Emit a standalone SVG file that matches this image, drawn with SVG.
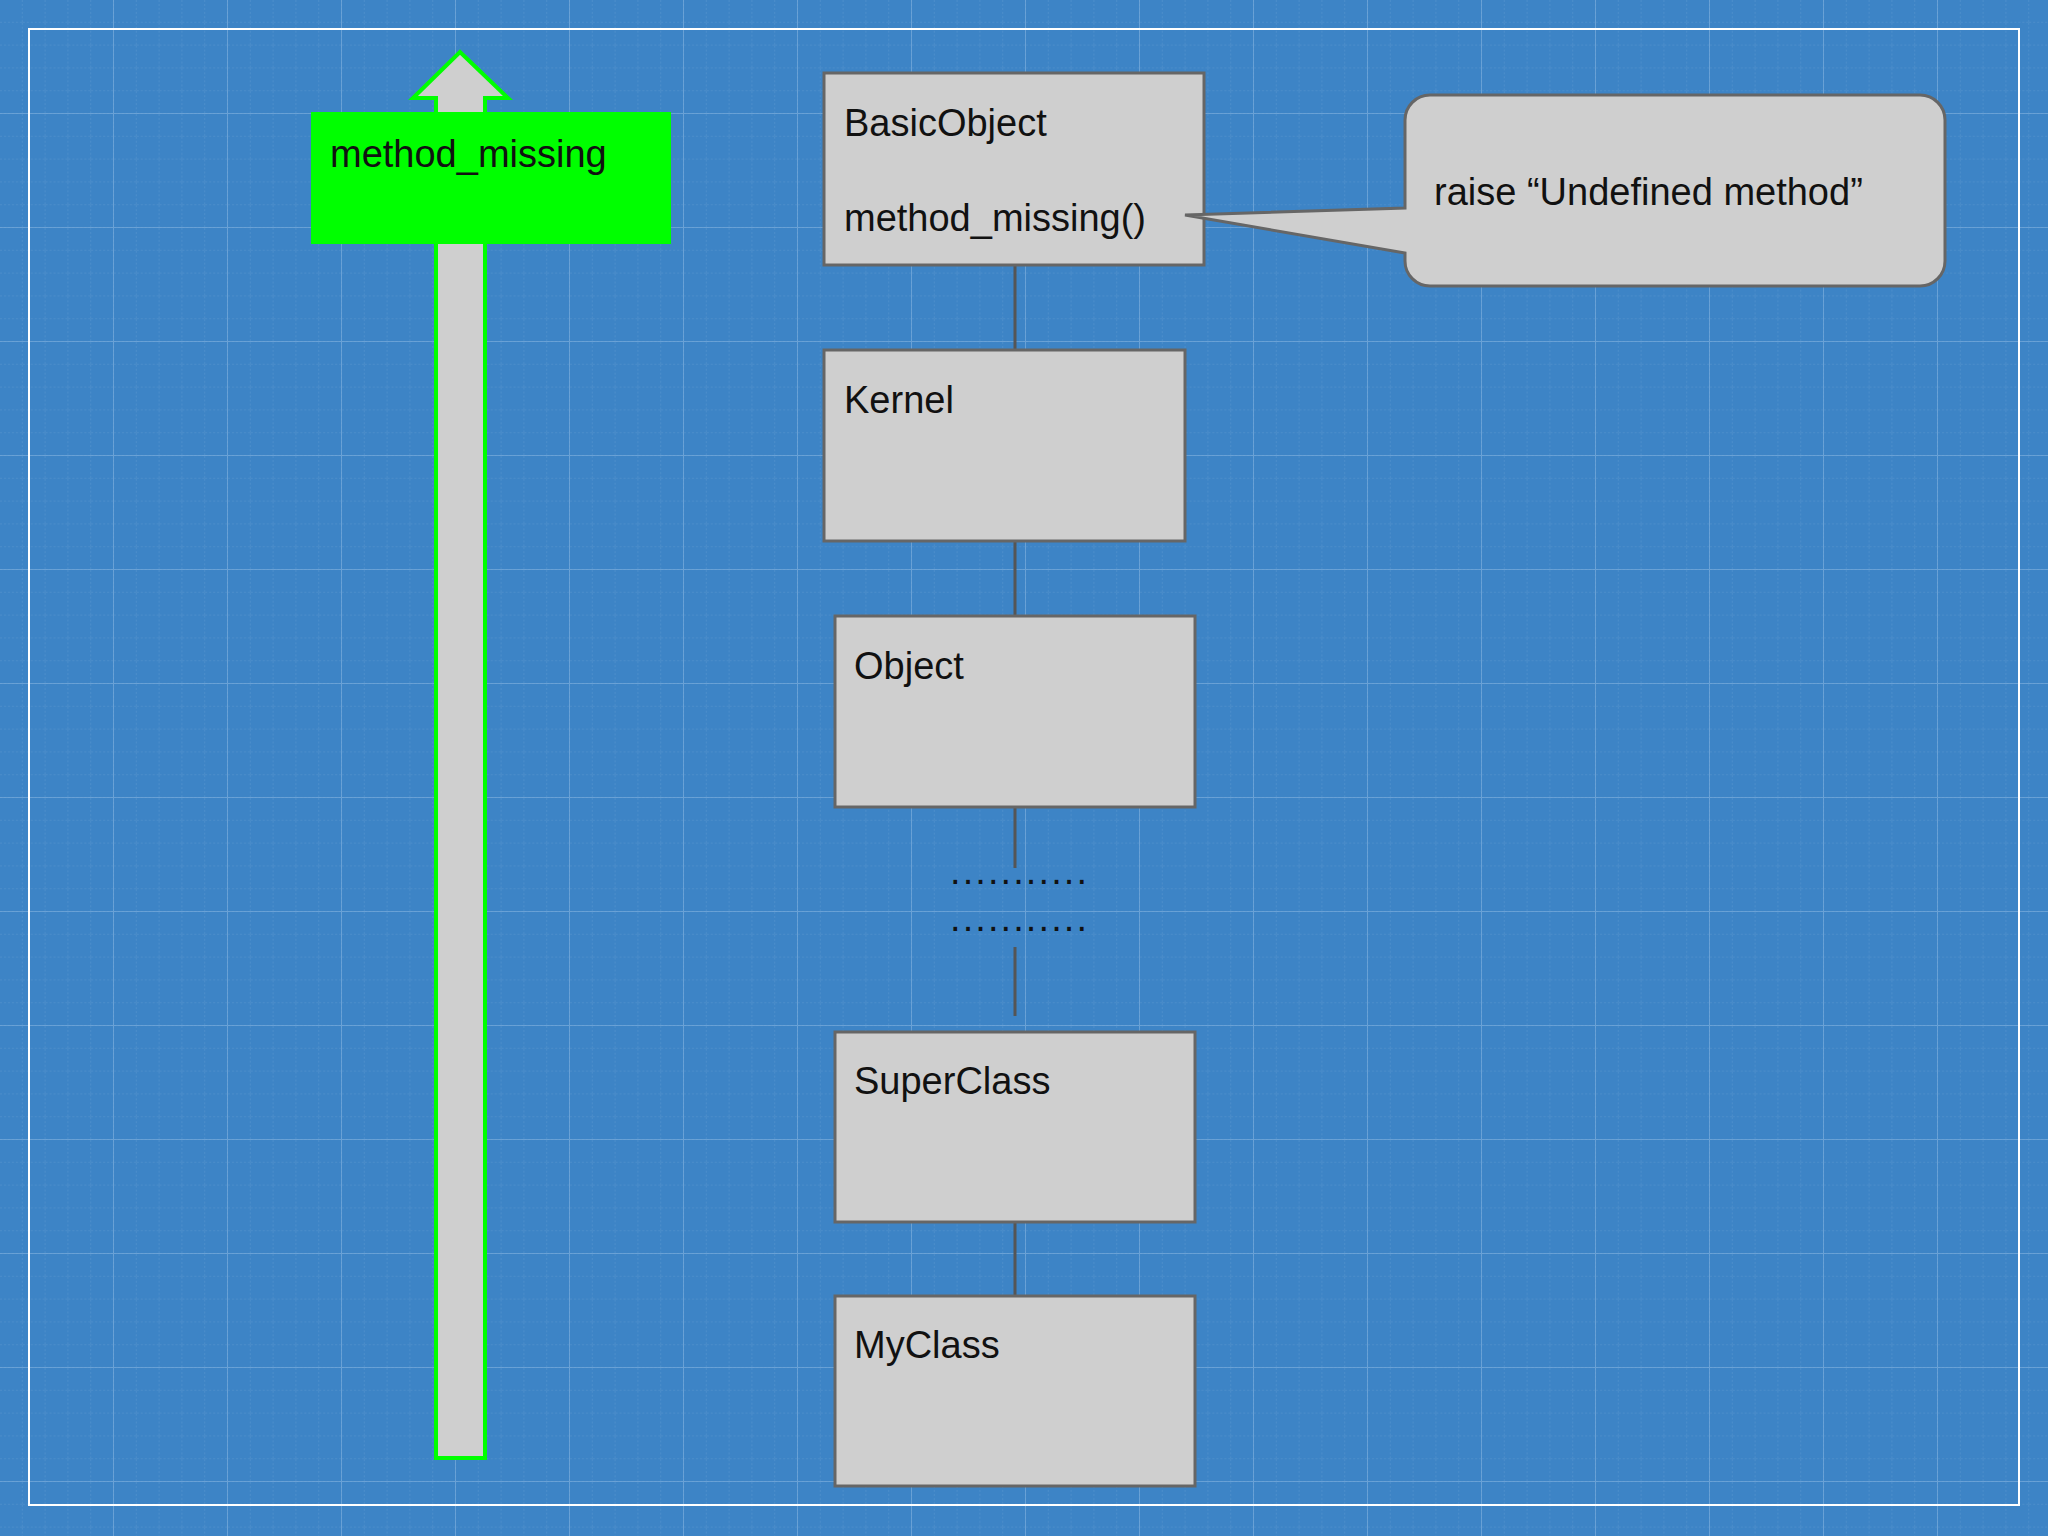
<svg xmlns="http://www.w3.org/2000/svg" width="2048" height="1536" viewBox="0 0 2048 1536">
<defs>
<pattern id="minor" width="22.8" height="22.8" patternUnits="userSpaceOnUse"><path d="M22.8 0V22.8M0 22.8H22.8" fill="none" stroke="#6ea3d6" stroke-width="1" stroke-dasharray="2 2" opacity="0.6"/></pattern>
<pattern id="major" width="114" height="114" patternUnits="userSpaceOnUse"><path d="M114 0V114M0 114H114" fill="none" stroke="#78acdc" stroke-width="2" opacity="0.7"/></pattern>
</defs>
<style>
.box{fill:#cfcfcf;stroke:#666;stroke-width:3}
.t{font-family:"Liberation Sans",Arial,sans-serif;font-size:38px;fill:#111}
.c{stroke:#555;stroke-width:3;fill:none}
</style>
<rect width="2048" height="1536" fill="#3d84c6"/>
<rect width="2048" height="1536" fill="url(#minor)"/>
<rect width="2048" height="1536" fill="url(#major)"/>
<rect x="29" y="29" width="1990" height="1476" fill="none" stroke="#fff" stroke-width="2"/>
<g id="arrow"><path d="M436 1458V98H413L460 52L508 98H485V1458Z" fill="#cfcfcf" stroke="#00ff00" stroke-width="4"/></g>
<g id="label"><rect x="311" y="112" width="360" height="132" fill="#00ff00"/><text class="t" x="330" y="167">method_missing</text></g>
<g id="connectors">
<path class="c" d="M1015 265V350M1015 541V616M1015 807V868M1015 947V1016M1015 1222V1296"/>
</g>
<g id="basicobject"><rect class="box" x="824" y="73" width="380" height="192"/><text class="t" x="844" y="136">BasicObject</text><text class="t" x="844" y="231">method_missing()</text></g>
<g id="kernel"><rect class="box" x="824" y="350" width="361" height="191"/><text class="t" x="844" y="413">Kernel</text></g>
<g id="object"><rect class="box" x="835" y="616" width="360" height="191"/><text class="t" x="854" y="679">Object</text></g>
<g id="dots"><text class="t" x="950" y="884" textLength="137">...........</text><text class="t" x="950" y="931" textLength="137">...........</text></g>
<g id="superclass"><rect class="box" x="835" y="1032" width="360" height="190"/><text class="t" x="854" y="1094">SuperClass</text></g>
<g id="myclass"><rect class="box" x="835" y="1296" width="360" height="190"/><text class="t" x="854" y="1358">MyClass</text></g>
<g id="callout"><path class="box" d="M1430 95H1920A25 25 0 0 1 1945 120V261A25 25 0 0 1 1920 286H1430A25 25 0 0 1 1405 261V253L1185 215L1405 208V120A25 25 0 0 1 1430 95Z"/><text class="t" x="1434" y="205">raise “Undefined method”</text></g>
</svg>
